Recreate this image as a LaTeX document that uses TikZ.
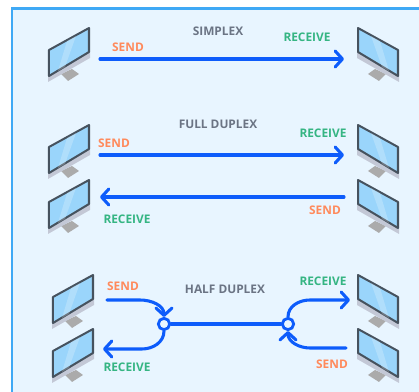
\documentclass[tikz,border=0pt]{standalone}
\usepackage{fontspec}
\setmainfont{Open Sans}
\usetikzlibrary{arrows.meta}
\definecolor{bgblue}{HTML}{E8F5FF}
\definecolor{frameblue}{HTML}{3FA9F5}
\definecolor{wireblue}{HTML}{0D5CFB}
\definecolor{sendc}{HTML}{FF8A5C}
\definecolor{recvc}{HTML}{35B583}
\definecolor{titlec}{HTML}{6B7484}
\definecolor{panelc}{HTML}{9AD5FB}
\definecolor{edgec}{HTML}{46525E}
\definecolor{shadec}{HTML}{C3C8D6}
\definecolor{standc}{HTML}{ABABAB}
\tikzset{
    wire/.style={draw=wireblue,line width=2.3pt,line cap=round},
    tip/.style={-{Straight Barb[length=5.5pt,width=12pt,round]}},
    hub/.style={circle,draw=wireblue,fill=bgblue,line width=2.1pt,minimum size=8.5pt,inner sep=0pt},
    lbl/.style={font=\fontsize{8.9}{10}\selectfont\bfseries},
    sendlbl/.style={lbl,text=sendc},
    recvlbl/.style={lbl,text=recvc},
    title/.style={lbl,text=titlec},
    screen/.pic={
        \fill[standc] (-28,46) -- (-17,41) -- (-10,46) -- (-21,53) -- cycle;
        \fill[shadec] (-41,48) -- (1,24) -- (1,30) -- (-41,54) -- cycle;
        \filldraw[fill=panelc,draw=edgec,line width=1.5pt,line join=round] (-40,22) -- (0,0) -- (0,24) -- (-40,48) -- cycle;
        \fill[white,opacity=.22] (-22,13) -- (-13,8) -- (-24,39) -- (-31,43) -- cycle;
    },
}
\begin{document}
\begin{tikzpicture}[x=0.75pt,y=-0.75pt]
    \clip (0,0) rectangle (419,392);
    \filldraw[fill=bgblue,draw=frameblue,line width=1.6pt] (12,8.5) rectangle (440,420);

    % simplex
    \pic at (89,28) {screen};
    \pic[xscale=-1] at (358,28) {screen};
    \node[title] (t1) at (218,31) {SIMPLEX};
    \node[sendlbl] (s1) at (128,47) {SEND};
    \node[recvlbl] (r1) at (307,37) {RECEIVE};
    \coordinate (a1) at (100,59);
    \coordinate (b1) at (344,59);
    \draw[wire,tip] (a1) -- (b1);

    % full duplex
    \pic at (89,125) {screen};
    \pic at (89,180) {screen};
    \pic[xscale=-1] at (358,125) {screen};
    \pic[xscale=-1] at (358,180) {screen};
    \node[title] (t2) at (218,124) {FULL DUPLEX};
    \node[sendlbl] (s2) at (114,143) {SEND};
    \node[recvlbl] (r2) at (323,133) {RECEIVE};
    \node[recvlbl] (r3) at (127,219) {RECEIVE};
    \node[sendlbl] (s3) at (325,210) {SEND};
    \coordinate (a2) at (100,155);
    \coordinate (b2) at (344,155);
    \coordinate (a3) at (344,197);
    \coordinate (b3) at (100,197);
    \draw[wire,tip] (a2) -- (b2);
    \draw[wire,tip] (a3) -- (b3);

    % half duplex
    \pic at (93,275) {screen};
    \pic at (93,329) {screen};
    \pic[xscale=-1] at (358,275) {screen};
    \pic[xscale=-1] at (358,329) {screen};
    \node[title] (t3) at (225,289) {HALF DUPLEX};
    \node[sendlbl] (s4) at (123,286) {SEND};
    \node[recvlbl] (r4) at (127,367) {RECEIVE};
    \node[recvlbl] (r5) at (323,281) {RECEIVE};
    \node[sendlbl] (s5) at (332,364) {SEND};
    \node[hub] (lhub) at (164,324) {};
    \node[hub] (rhub) at (288,324) {};
    \coordinate (a4) at (107,300);
    \coordinate (b4) at (103,349);
    \coordinate (a5) at (350,300);
    \coordinate (b5) at (346,348);
    \draw[wire] (lhub) -- (rhub);
    \draw[wire,tip] (a4) -- (140,300) to[out=0,in=90] (lhub.north);
    \draw[wire,tip] (lhub.south) to[out=-90,in=0] (142,349) -- (b4);
    \draw[wire,tip] (rhub.north) to[out=90,in=180] (310,300) -- (a5);
    \draw[wire,tip] (b5) -- (310,348) to[out=180,in=-90] (rhub.south);
\end{tikzpicture}
\end{document}
